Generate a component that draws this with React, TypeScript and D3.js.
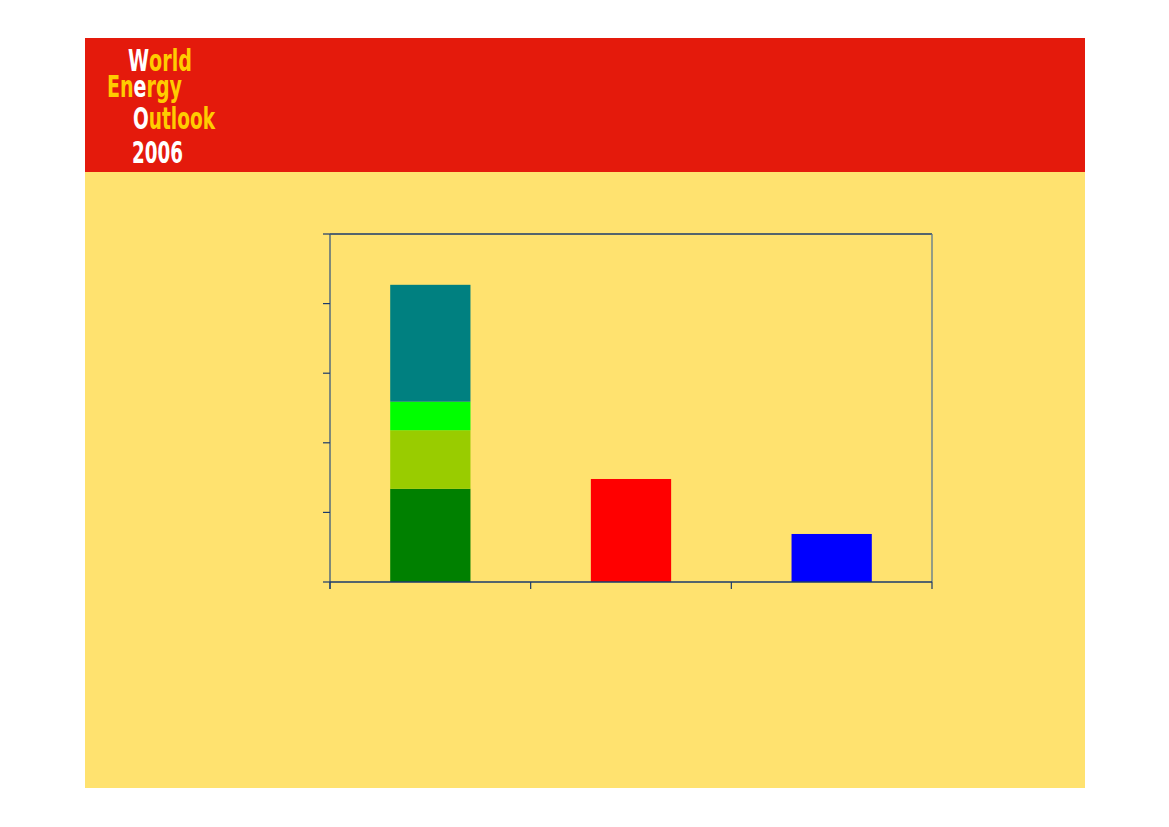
import { useLayoutEffect, useRef, useState } from "react";
import * as d3 from "d3";

const W = 1169;
const H = 827;

// slide frame
const SLIDE = { left: 85, top: 38, right: 1085, bottom: 788, header: 172 };
const PLOT = { left: 330, right: 932, top: 234, bottom: 582 };

// chart data (no labels shown on the slide)
const categories = ["cat1", "cat2", "cat3"];
const seriesKeys = ["green", "yellowGreen", "lime", "teal", "red", "blue"];
const seriesColors = ["#008000", "#99CC00", "#00FF00", "#008080", "#FF0000", "#0000FF"];
const cat1Values = [13.4, 8.4, 4.1, 16.8, 0, 0];
const cat2Values = [0, 0, 0, 0, 14.8, 0];
const cat3Values = [0, 0, 0, 0, 0, 6.9];
const yTicks = [0, 10, 20, 30, 40, 50];

// logo lines: coloured pieces, left edge, baseline and the width on the slide
const logoLines = [
  { parts: [["W", "#fff"], ["orld", "#FFCC00"]], x: 128, y: 71, len: 64 },
  { parts: [["En", "#FFCC00"], ["e", "#fff"], ["rgy", "#FFCC00"]], x: 107, y: 97, len: 75 },
  { parts: [["O", "#fff"], ["utlook", "#FFCC00"]], x: 133, y: 129, len: 82 },
  { parts: [["2006", "#fff"]], x: 132, y: 163, len: 51 },
];

const App = () => {
  const lineRefs = useRef<(SVGTextElement | null)[]>([]);
  const [scales, setScales] = useState<number[]>(logoLines.map(() => 0.7));

  // squeeze each logo line horizontally to the condensed width of the original
  useLayoutEffect(() => {
    setScales(
      lineRefs.current.map((el, i) =>
        el ? logoLines[i].len / el.getComputedTextLength() : 0.7
      )
    );
  }, []);

  const rows = categories.map((c, i) => {
    const vals = [cat1Values, cat2Values, cat3Values][i];
    const row: Record<string, any> = { category: c };
    seriesKeys.forEach((k, j) => (row[k] = vals[j]));
    return row;
  });

  const stacked = d3.stack().keys(seriesKeys)(rows as any);

  const x = d3
    .scaleBand()
    .domain(categories)
    .range([PLOT.left, PLOT.right])
    .paddingInner(0.6)
    .paddingOuter(0.3);

  const y = d3.scaleLinear().domain([0, 50]).range([PLOT.bottom, PLOT.top]);

  const step = (PLOT.right - PLOT.left) / categories.length;
  const xTickPos = d3.range(categories.length + 1).map((i) => PLOT.left + i * step);

  const axisColor = "#1B3A6B";

  return (
    <div style={{ position: "absolute", left: 0, top: 0 }}>
      <svg width={W} height={H} style={{ display: "block", background: "#fff" }}>
        {/* slide background */}
        <rect
          x={SLIDE.left}
          y={SLIDE.header}
          width={SLIDE.right - SLIDE.left}
          height={SLIDE.bottom - SLIDE.header}
          fill="#FFE26F"
        />
        <rect
          x={SLIDE.left}
          y={SLIDE.top}
          width={SLIDE.right - SLIDE.left}
          height={SLIDE.header - SLIDE.top}
          fill="#E41A0C"
        />

        {/* logo */}
        {logoLines.map((l, i) => (
          <text
            key={i}
            ref={(el) => {
              lineRefs.current[i] = el;
            }}
            transform={`translate(${l.x},${l.y}) scale(${scales[i]},1)`}
            fontFamily="DejaVu Sans, sans-serif"
            fontWeight="bold"
            fontSize={31}
          >
            {l.parts.map(([t, c], j) => (
              <tspan key={j} fill={c}>
                {t}
              </tspan>
            ))}
          </text>
        ))}

        {/* bars */}
        {stacked.map((s, si) => (
          <g key={s.key} fill={seriesColors[si]}>
            {s.map((d, di) =>
              d[1] - d[0] > 0 ? (
                <rect
                  key={di}
                  x={x(categories[di])}
                  y={y(d[1])}
                  width={x.bandwidth()}
                  height={y(d[0]) - y(d[1])}
                />
              ) : null
            )}
          </g>
        ))}

        {/* plot frame */}
        <line x1={PLOT.left} x2={PLOT.right} y1={PLOT.top} y2={PLOT.top} stroke={axisColor} strokeWidth={1.3} />
        <line x1={PLOT.right} x2={PLOT.right} y1={PLOT.top} y2={PLOT.bottom} stroke="#5B7890" strokeWidth={1.3} />

        {/* y axis */}
        <line x1={PLOT.left} x2={PLOT.left} y1={PLOT.top} y2={PLOT.bottom + 7} stroke="#3C5A7E" strokeWidth={1.3} />
        {yTicks.map((t) => (
          <line key={t} x1={PLOT.left - 7} x2={PLOT.left} y1={y(t)} y2={y(t)} stroke={axisColor} strokeWidth={1.2} />
        ))}

        {/* x axis */}
        <line x1={PLOT.left} x2={PLOT.right} y1={PLOT.bottom} y2={PLOT.bottom} stroke={axisColor} strokeWidth={1.3} />
        {xTickPos.map((p, i) => (
          <line key={i} x1={p} x2={p} y1={PLOT.bottom} y2={PLOT.bottom + 7} stroke={axisColor} strokeWidth={1.2} />
        ))}
      </svg>
    </div>
  );
};

export default App;
